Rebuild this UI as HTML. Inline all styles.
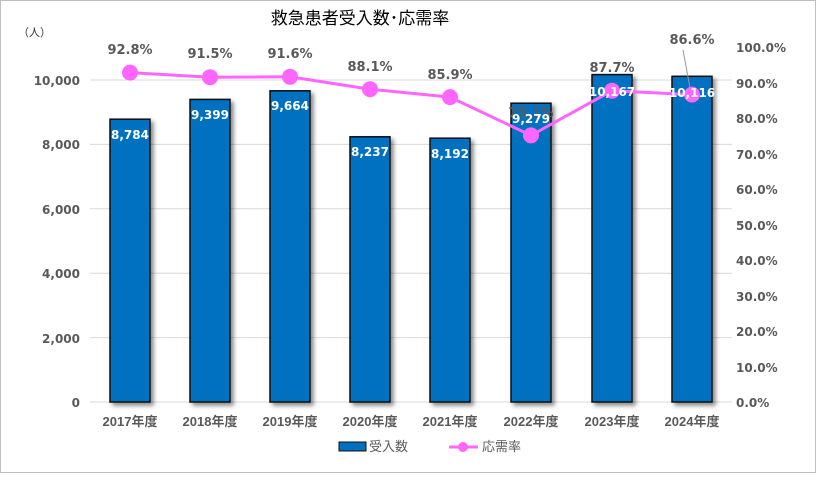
<!DOCTYPE html>
<html><head><meta charset="utf-8"><style>
body{margin:0;background:#fff}
svg text{font-family:"Liberation Sans","Noto Sans CJK JP",sans-serif}
svg .n{font-family:"DejaVu Sans","Liberation Sans","Noto Sans CJK JP",sans-serif}
</style></head><body>
<svg width="816" height="473" viewBox="0 0 816 473" xmlns="http://www.w3.org/2000/svg">
<defs><filter id="sh" x="-20%" y="-20%" width="150%" height="150%"><feDropShadow dx="3" dy="3" stdDeviation="2" flood-color="#000" flood-opacity="0.45"/></filter></defs>
<rect x="0.5" y="0.5" width="815" height="472" fill="#fff" stroke="#bfbfbf"/>
<text x="360" y="24" font-size="17" text-anchor="middle" fill="#000">救急患者受入数･応需率</text>
<text x="18" y="36" font-size="11" fill="#333">（人）</text>
<g stroke="#d9d9d9" stroke-width="1">
<line x1="90" y1="80" x2="732" y2="80"/><line x1="90" y1="144.4" x2="732" y2="144.4"/><line x1="90" y1="208.8" x2="732" y2="208.8"/><line x1="90" y1="273.2" x2="732" y2="273.2"/><line x1="90" y1="337.6" x2="732" y2="337.6"/><line x1="90" y1="402" x2="732" y2="402"/>
</g>
<g class="n" font-size="12" font-weight="bold" fill="#595959" text-anchor="end">
<text class="n" x="80" y="85">10,000</text><text class="n" x="80" y="149">8,000</text><text class="n" x="80" y="214">6,000</text><text class="n" x="80" y="278">4,000</text><text class="n" x="80" y="343">2,000</text><text class="n" x="80" y="407">0</text>
</g>
<g font-size="12" font-weight="bold" fill="#595959" text-anchor="start">
<text class="n" x="736" y="52">100.0%</text><text class="n" x="736" y="88">90.0%</text><text class="n" x="736" y="123">80.0%</text><text class="n" x="736" y="159">70.0%</text><text class="n" x="736" y="194">60.0%</text><text class="n" x="736" y="230">50.0%</text><text class="n" x="736" y="265">40.0%</text><text class="n" x="736" y="301">30.0%</text><text class="n" x="736" y="336">20.0%</text><text class="n" x="736" y="372">10.0%</text><text class="n" x="736" y="407">0.0%</text>
</g>
<g fill="#0070c0" stroke="#111" stroke-width="1.5" filter="url(#sh)">
<rect x="110" y="119.2" width="40" height="282.8"/>
<rect x="190" y="99.4" width="40" height="302.6"/>
<rect x="270" y="90.8" width="40" height="311.2"/>
<rect x="350" y="136.8" width="40" height="265.2"/>
<rect x="430" y="138.2" width="40" height="263.8"/>
<rect x="511" y="103.2" width="40" height="298.8"/>
<rect x="592" y="74.6" width="40" height="327.4"/>
<rect x="672" y="76.3" width="40" height="325.7"/>
</g>
<g font-size="13" font-weight="bold" fill="#595959" text-anchor="middle">
<text class="n" x="130" y="54">92.8%</text><text class="n" x="210" y="58">91.5%</text><text class="n" x="290" y="58">91.6%</text><text class="n" x="370" y="71">88.1%</text><text class="n" x="450" y="79">85.9%</text><text class="n" x="531" y="117">75.1%</text><text class="n" x="612" y="72">87.7%</text><text class="n" x="692" y="44">86.6%</text>
</g>
<line x1="683" y1="50" x2="690" y2="88" stroke="#999" stroke-width="1"/>
<polyline points="130,72.6 210,77.2 290,76.8 370,89.2 450,97.1 531,135.4 612,90.7 692,94.6" fill="none" stroke="#ff66ff" stroke-width="3"/>
<g fill="#ff66ff">
<circle cx="130" cy="72.6" r="8"/><circle cx="210" cy="77.2" r="8"/><circle cx="290" cy="76.8" r="8"/><circle cx="370" cy="89.2" r="8"/><circle cx="450" cy="97.1" r="8"/><circle cx="531" cy="135.4" r="8"/><circle cx="612" cy="90.7" r="8"/><circle cx="692" cy="94.6" r="8"/>
</g>
<g font-size="12" font-weight="bold" fill="#fff" text-anchor="middle">
<text class="n" x="130" y="139">8,784</text><text class="n" x="210" y="119">9,399</text><text class="n" x="290" y="110">9,664</text><text class="n" x="370" y="156">8,237</text><text class="n" x="450" y="158">8,192</text><text class="n" x="531" y="123">9,279</text><text class="n" x="612" y="96">10,167</text><text class="n" x="692" y="97">10,116</text>
</g>
<g font-size="13" font-weight="bold" fill="#595959" text-anchor="middle">
<text x="130" y="426">2017年度</text><text x="210" y="426">2018年度</text><text x="290" y="426">2019年度</text><text x="370" y="426">2020年度</text><text x="450" y="426">2021年度</text><text x="531" y="426">2022年度</text><text x="612" y="426">2023年度</text><text x="692" y="426">2024年度</text>
</g>
<rect x="339" y="442" width="27" height="9" fill="#0070c0" stroke="#111" stroke-width="1"/>
<text x="369" y="451" font-size="13" fill="#595959">受入数</text>
<line x1="449" y1="447" x2="478" y2="447" stroke="#ff66ff" stroke-width="3"/>
<circle cx="463" cy="447" r="5" fill="#ff66ff"/>
<text x="482" y="451" font-size="13" fill="#595959">応需率</text>
</svg>
</body></html>
